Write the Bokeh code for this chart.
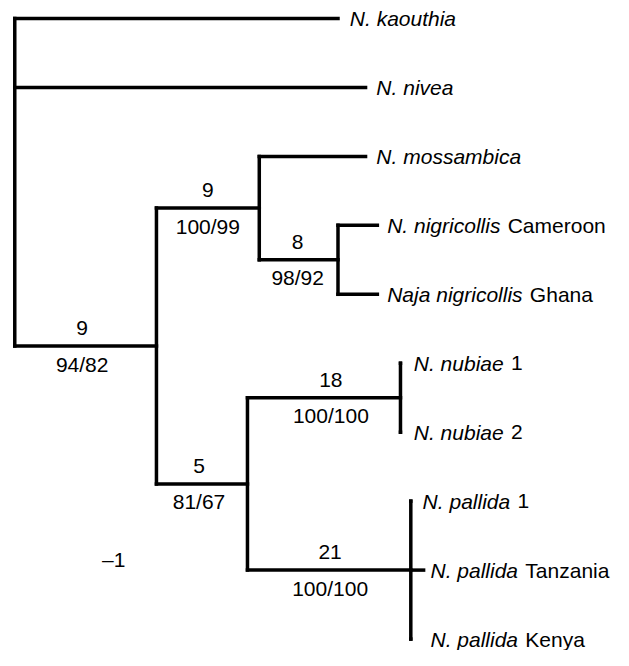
from bokeh.plotting import figure
from bokeh.models import Range1d, ColumnDataSource
from bokeh.core.properties import value
from bokeh.embed import file_html
from bokeh.resources import INLINE

# ---------------- data ----------------
# terminal taxa (top to bottom); italic part + roman suffix
tip_italic = ["N. kaouthia", "N. nivea", "N. mossambica", "N. nigricollis",
              "Naja nigricollis", "N. nubiae", "N. nubiae", "N. pallida",
              "N. pallida", "N. pallida"]
tip_suffix = ["", "", "", "Cameroon", "Ghana", "1", "2", "1", "Tanzania", "Kenya"]
tip_parent = ["root", "root", "A", "B", "B", "NU", "NU", "PA", "PA", "PA"]
tip_depth = [345, 373, 373, 385, 385, 408.5, 408.5, 419, 432, 419]

# internal nodes
node_names = ["root", "C", "A", "B", "D", "NU", "PA"]
node_parent = [None, "root", "C", "A", "C", "D", "D"]
node_depth = [16.5, 160.5, 265, 345, 253, 408.5, 419]

# branch support: steps above, bootstrap below
support_node = ["C", "A", "B", "D", "NU", "PA"]
support_steps = ["9", "9", "8", "5", "18", "21"]
support_boot = ["94/82", "100/99", "98/92", "81/67", "100/100", "100/100"]

# stray annotation
note_text = ["\u20131"]
note_x = [117]
note_y = [7.85]

# ---------------- layout ----------------
FONT = "Liberation Sans"
FS = 21
label_gap = [12, 11, 11, 10, 10, 13.5, 13.5, 12, 7, 20]
support_dx = [-3.5, 0, -1, -3, 7, 1]
W, H = 613, 650
TOP_PX, STEP_PX = 18.0, 68.95

ARIAL = {' ': 278, '.': 278, '1': 556, '2': 556, 'N': 722, 'C': 722, 'G': 778,
         'T': 611, 'K': 667, 'a': 556, 'b': 556, 'c': 500, 'd': 556, 'e': 556,
         'g': 556, 'h': 556, 'i': 222, 'j': 222, 'k': 500, 'l': 222, 'm': 833,
         'n': 556, 'o': 556, 'p': 556, 'r': 333, 's': 500, 't': 278, 'u': 556,
         'v': 500, 'y': 500, 'z': 500}


def text_width(s):
    return sum(ARIAL.get(c, 556) for c in s) * FS / 1000.0


depth = dict(zip(node_names, node_depth))
parent = dict(zip(node_names, node_parent))
children = {n: [] for n in node_names}
for i, pnode in enumerate(tip_parent):
    children[pnode].append(("tip", i))
for n, pnode in zip(node_names, node_parent):
    if pnode is not None:
        children[pnode].append(("node", n))

ypos = {}


def node_y(n):
    if n in ypos:
        return ypos[n]
    ys = [c[1] if c[0] == "tip" else node_y(c[1]) for c in children[n]]
    ypos[n] = (min(ys) + max(ys)) / 2.0 if len(ys) == 2 else sum(ys) / len(ys)
    return ypos[n]


for n in node_names:
    node_y(n)

x0, y0, x1, y1 = [], [], [], []
# tip branches
for i, (pn, d) in enumerate(zip(tip_parent, tip_depth)):
    x0.append(depth[pn]); y0.append(i); x1.append(d); y1.append(i)
# internal branches
for n in node_names:
    pn = parent[n]
    if pn is not None:
        x0.append(depth[pn]); y0.append(ypos[n]); x1.append(depth[n]); y1.append(ypos[n])
# verticals
for n in node_names:
    ys = [c[1] if c[0] == "tip" else ypos[c[1]] for c in children[n]]
    x0.append(depth[n]); y0.append(min(ys)); x1.append(depth[n]); y1.append(max(ys))

y_top = -TOP_PX / STEP_PX
y_bot = y_top + H / STEP_PX

p = figure(width=W, height=H, x_range=Range1d(2, 625), y_range=Range1d(y_bot, y_top),
           toolbar_location=None, output_backend="svg", min_border=0,
           x_axis_type=None, y_axis_type=None)
p.grid.visible = False
p.outline_line_color = None
p.background_fill_color = "white"
p.border_fill_color = "white"

p.segment(x0=x0, y0=y0, x1=x1, y1=y1, line_color="black", line_width=3.5,
          line_cap="square")

# tip labels
lab_x = [d + g for d, g in zip(tip_depth, label_gap)]
lab_y = list(range(len(tip_italic)))
src_it = ColumnDataSource(dict(x=lab_x, y=lab_y, t=tip_italic))
p.text(x="x", y="y", text="t", source=src_it, text_font=value(FONT),
       text_font_size=value(f"{FS}px"), text_font_style="italic",
       text_align="left", text_baseline="middle", text_color="black")
suf_off = [text_width(it + " ") + 1.5 for it in tip_italic]
src_rm = ColumnDataSource(dict(x=lab_x, y=lab_y, t=tip_suffix, dx=suf_off))
p.text(x="x", y="y", text="t", x_offset="dx", source=src_rm, text_font=value(FONT),
       text_font_size=value(f"{FS}px"), text_align="left", text_baseline="middle",
       text_color="black")

# support labels
sx, sy = [], []
for n, dx in zip(support_node, support_dx):
    sx.append((depth[parent[n]] + depth[n]) / 2.0 + dx)
    sy.append(ypos[n])
p.text(x=sx, y=sy, text=support_steps, y_offset=-18, text_font=value(FONT),
       text_font_size=value(f"{FS}px"), text_align="center", text_baseline="middle",
       text_color="black")
p.text(x=sx, y=sy, text=support_boot, y_offset=18, text_font=value(FONT),
       text_font_size=value(f"{FS}px"), text_align="center", text_baseline="middle",
       text_color="black")

p.text(x=note_x, y=note_y, text=note_text, text_font=value(FONT),
       text_font_size=value(f"{FS}px"), text_align="center", text_baseline="middle",
       text_color="black")

open("out.html", "w").write(file_html(p, INLINE))
